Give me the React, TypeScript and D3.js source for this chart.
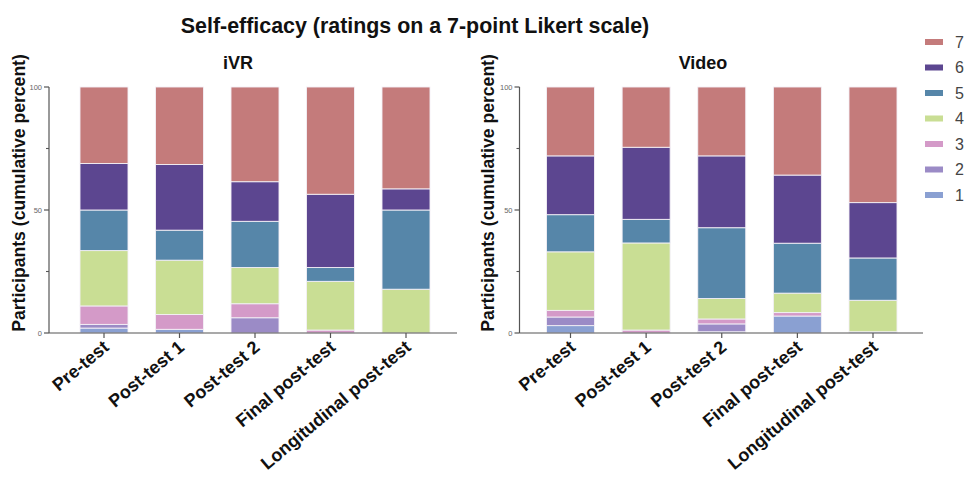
import React from "react";
import * as d3 from "d3";

const tests = ["Pre-test", "Post-test 1", "Post-test 2", "Final post-test", "Longitudinal post-test"];
const levels = ["1", "2", "3", "4", "5", "6", "7"];
const levelColors = ["#8aa0d2", "#9b8bc6", "#d49ac8", "#c9de94", "#5686a9", "#5c4690", "#c47b7b"];

// percent of participants at each rating level 1..7
const ivrPre = [2.0, 1.5, 7.5, 22.5, 16.5, 18.9, 31.1];
const ivrPost1 = [1.5, 0, 6.0, 22.1, 12.2, 26.7, 31.5];
const ivrPost2 = [0, 6.2, 5.7, 14.7, 18.8, 16.1, 38.5];
const ivrFinal = [0, 0, 1.2, 19.8, 5.6, 29.8, 43.6];
const ivrLong = [0, 0, 0, 17.8, 32.2, 8.6, 41.4];

const videoPre = [3.0, 3.5, 2.7, 23.8, 15.1, 23.9, 28.0];
const videoPost1 = [0, 0, 1.2, 35.4, 9.6, 29.3, 24.5];
const videoPost2 = [0.5, 3.2, 2.0, 8.3, 28.8, 29.2, 28.0];
const videoFinal = [6.9, 0, 1.4, 7.9, 20.3, 27.7, 35.8];
const videoLong = [0.5, 0, 0, 12.8, 17.2, 22.5, 47.0];

const yTicksMajor = [0, 50, 100];
const yTicksMinor = [25, 75];

const FONT = "'Liberation Sans', Arial, Helvetica, sans-serif";

function buildRows(series: number[][]) {
  return tests.map((t, i) => {
    const row: any = { test: t };
    levels.forEach((l, j) => (row[l] = series[i][j]));
    return row;
  });
}

type PanelProps = {
  title: string;
  titleX: number;
  series: number[][];
  axisX: number;
  axisEnd: number;
  firstX: number;
  lastX: number;
  labelX: number;
};

const Y0 = 333;
const Y100 = 87;
const BAR_W = 48;

function Panel({ title, titleX, series, axisX, axisEnd, firstX, lastX, labelX }: PanelProps) {
  const y = d3.scaleLinear().domain([0, 100]).range([Y0, Y100]);
  const x = d3.scalePoint<string>().domain(tests).range([firstX, lastX]);
  const rows = buildRows(series);
  const stacked = d3.stack<any>().keys(levels)(rows);
  return (
    <g>
      <text x={titleX} y={69} textAnchor="middle" fontFamily={FONT} fontWeight="bold" fontSize={18} fill="#111">
        {title}
      </text>
      <text
        transform={`translate(${labelX},${(Y0 + 53) / 2}) rotate(-90)`}
        textAnchor="middle"
        fontFamily={FONT}
        fontWeight="bold"
        fontSize={17.6}
        fill="#111"
      >
        Participants (cumulative percent)
      </text>
      {stacked.map((layer, li) => (
        <g key={layer.key}>
          {layer.map((d, i) => {
            const h = y(d[0]) - y(d[1]);
            if (h <= 0) return null;
            return (
              <rect
                key={i}
                x={(x(tests[i]) as number) - BAR_W / 2}
                y={y(d[1])}
                width={BAR_W}
                height={h}
                fill={levelColors[li]}
                stroke="#f3f0f6"
                strokeWidth={0.9}
              />
            );
          })}
        </g>
      ))}
      {/* y axis */}
      <line x1={axisX} x2={axisX} y1={y(100)} y2={y(0)} stroke="#555" strokeWidth={1.2} />
      {yTicksMajor.map((t) => (
        <g key={t}>
          <line x1={axisX - 5} x2={axisX} y1={y(t)} y2={y(t)} stroke="#555" strokeWidth={1.2} />
          <text x={axisX - 7} y={y(t)} dy="0.35em" textAnchor="end" fontFamily={FONT} fontSize={7.5} fill="#666">
            {t}
          </text>
        </g>
      ))}
      {yTicksMinor.map((t) => (
        <line key={t} x1={axisX - 3} x2={axisX} y1={y(t)} y2={y(t)} stroke="#555" strokeWidth={1.1} />
      ))}
      {/* x axis */}
      <line x1={axisX} x2={axisEnd} y1={y(0)} y2={y(0)} stroke="#555" strokeWidth={1.2} />
      {tests.map((t) => (
        <g key={t}>
          <line x1={x(t)} x2={x(t)} y1={y(0)} y2={y(0) + 5} stroke="#555" strokeWidth={1.2} />
          <text
            transform={`translate(${(x(t) as number) + 6},${y(0) + 16}) rotate(-40)`}
            textAnchor="end"
            fontFamily={FONT}
            fontWeight="bold"
            fontSize={18}
            fill="#111"
          >
            {t}
          </text>
        </g>
      ))}
    </g>
  );
}

export default function App() {
  const legendItems = levels.slice().reverse();
  const legendY = d3.scalePoint<string>().domain(legendItems).range([42, 195]);
  return (
    <svg width={965} height={477} style={{ position: "absolute", left: 0, top: 0, background: "#fff" }}>
      <rect width={965} height={477} fill="#fff" />
      <text x={415} y={33} textAnchor="middle" fontFamily={FONT} fontWeight="bold" fontSize={21.4} fill="#111">
        Self-efficacy (ratings on a 7-point Likert scale)
      </text>
      <Panel
        title="iVR"
        titleX={238}
        series={[ivrPre, ivrPost1, ivrPost2, ivrFinal, ivrLong]}
        axisX={49}
        axisEnd={457}
        firstX={104}
        lastX={406}
        labelX={25}
      />
      <Panel
        title="Video"
        titleX={703}
        series={[videoPre, videoPost1, videoPost2, videoFinal, videoLong]}
        axisX={519.5}
        axisEnd={923}
        firstX={570.5}
        lastX={873}
        labelX={494}
      />
      {legendItems.map((l) => {
        const idx = levels.indexOf(l);
        const cy = legendY(l) as number;
        return (
          <g key={l}>
            <rect x={925} y={cy - 3} width={18} height={6} fill={levelColors[idx]} />
            <text x={955} y={cy} dy="0.36em" fontFamily={FONT} fontSize={16} fill="#444">
              {l}
            </text>
          </g>
        );
      })}
    </svg>
  );
}
